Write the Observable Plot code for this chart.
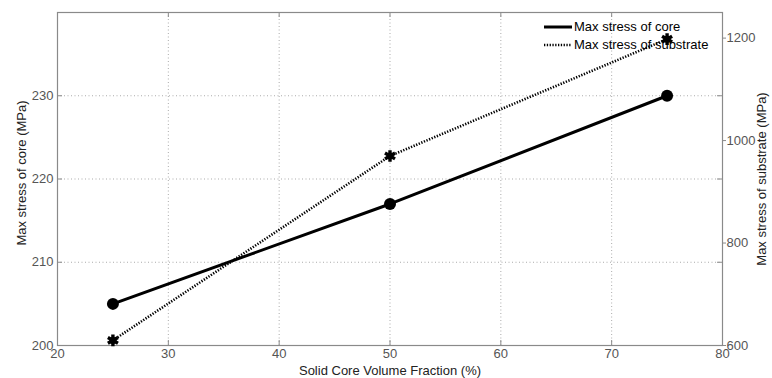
<!DOCTYPE html>
<html>
<head>
<meta charset="utf-8">
<script src="https://cdn.jsdelivr.net/npm/d3@7"></script>
<script src="https://cdn.jsdelivr.net/npm/@observablehq/plot@0.6"></script>
<style>
  html, body { margin: 0; padding: 0; background: #fff; }
  #wrap { position: relative; width: 772px; height: 378px; }
  #legend { position: absolute; left: 542px; top: 18px; font: 13px "Liberation Sans", Arial, sans-serif; color: #000; line-height: 18px; }
  #legend div { display: flex; align-items: center; white-space: nowrap; }
  #legend svg { margin-right: 1px; }
</style>
</head>
<body>
<div id="wrap"></div>
<script>
// ---- data ----
const fractions = [25, 50, 75];
const coreStress = [205, 217, 230];
const substrateStress = [610, 970, 1198];
const xTicks = [20, 30, 40, 50, 60, 70, 80];
const leftTicks = [200, 210, 220, 230];
const rightTicks = [600, 800, 1000, 1200];
const seriesNames = ["Max stress of core", "Max stress of substrate"];
const xLabel = "Solid Core Volume Fraction (%)";
const leftLabel = "Max stress of core (MPa)";
const rightLabel = "Max stress of substrate (MPa)";

const leftDomain = [200, 240];
const rightDomain = [600, 1250];
const sub2core = d3.scaleLinear().domain(rightDomain).range(leftDomain);

const core = fractions.map((f, i) => ({x: f, y: coreStress[i]}));
const sub = fractions.map((f, i) => ({x: f, y: sub2core(substrateStress[i])}));

const W = 772, H = 378, mL = 57, mR = 50, mT = 12, mB = 33;
const pw = W - mL - mR, ph = H - mT - mB;
const axisGray = "#8a8a8a";
const gridGray = "#ababab";
const tickText = "#555";
const dotted = "1.3,1.5";

const chart = Plot.plot({
  width: W, height: H,
  marginLeft: mL, marginRight: mR, marginTop: mT, marginBottom: mB,
  style: {fontFamily: '"Liberation Sans", Arial, sans-serif', fontSize: "13px", background: "#fff", overflow: "visible"},
  x: {domain: [20, 80]},
  y: {domain: leftDomain},
  marks: [
    // grid
    Plot.ruleX(xTicks.slice(1, -1), {stroke: gridGray, strokeDasharray: "1,2.5"}),
    Plot.ruleY(leftTicks.slice(1), {stroke: gridGray, strokeDasharray: "1,2.5"}),
    // inner ticks (matlab style)
    Plot.ruleX(xTicks, {stroke: axisGray, insetTop: ph - 5}),
    Plot.ruleX(xTicks, {stroke: axisGray, insetBottom: ph - 5}),
    Plot.ruleY(leftTicks, {stroke: axisGray, insetRight: pw - 5}),
    Plot.ruleY(leftTicks, {stroke: axisGray, insetLeft: pw - 5}),
    Plot.frame({stroke: axisGray, strokeWidth: 1.2}),
    // axes
    Plot.axisX(xTicks, {anchor: "bottom", tickSize: 0, tickPadding: 3, color: tickText, label: null}),
    Plot.axisY(leftTicks, {anchor: "left", tickSize: 0, tickPadding: 4, color: tickText, label: null}),
    Plot.axisY(rightTicks.map(sub2core), {anchor: "right", tickSize: 3, tickPadding: 1, stroke: axisGray, fill: tickText,
      tickFormat: d => String(Math.round(sub2core.invert(d))), label: null}),
    // axis titles
    Plot.text([xLabel], {frameAnchor: "bottom", textAnchor: "middle", lineAnchor: "middle", dy: 25, fill: "#222", fontSize: 13}),
    Plot.text([leftLabel], {frameAnchor: "left", textAnchor: "middle", lineAnchor: "middle", rotate: -90, dx: -36, dy: -6, fill: "#222", fontSize: 13}),
    Plot.text([rightLabel], {frameAnchor: "right", textAnchor: "middle", lineAnchor: "middle", rotate: -90, dx: 39, fill: "#222", fontSize: 13}),
    // series
    Plot.line(sub, {x: "x", y: "y", stroke: "#000", strokeWidth: 2.6, strokeDasharray: dotted, strokeLinecap: "butt"}),
    Plot.line(core, {x: "x", y: "y", stroke: "#000", strokeWidth: 3}),
    Plot.dot(core, {x: "x", y: "y", r: 6, fill: "#000", stroke: "none"}),
    Plot.dot(sub, {x: "x", y: "y", r: 5.5, symbol: "asterisk", stroke: "#000", strokeWidth: 3.4}),
    Plot.dot(sub, {x: "x", y: "y", r: 3.5, fill: "#000", stroke: "none"})
  ]
});

const wrap = document.getElementById("wrap");
wrap.appendChild(chart);

const legend = document.createElement("div");
legend.id = "legend";
const dashes = [null, dotted];
seriesNames.forEach((name, i) => {
  const row = document.createElement("div");
  row.innerHTML = `<svg width="31" height="8"><line x1="2" x2="30" y1="4" y2="4" stroke="#000" stroke-width="${i === 0 ? 3 : 2.4}" ${dashes[i] ? `stroke-dasharray="${dashes[i]}"` : ""}/></svg><span>${name}</span>`;
  legend.appendChild(row);
});
wrap.appendChild(legend);
</script>
</body>
</html>
